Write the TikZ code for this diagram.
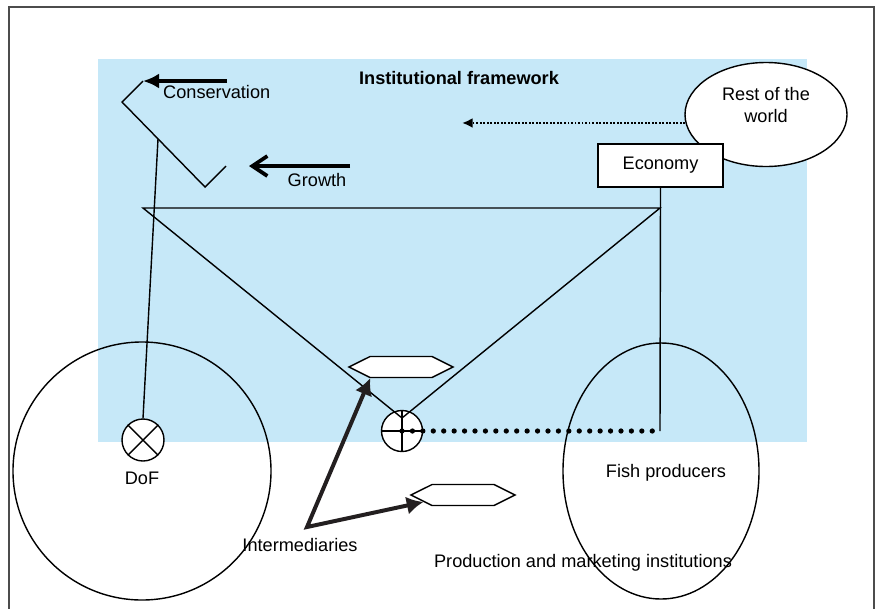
\documentclass[tikz,border=0pt]{standalone}
\usepackage{fontspec}
\setmainfont{Liberation Sans}
\usepackage{tikz}
\usetikzlibrary{arrows.meta,shapes.geometric,shapes.symbols}

\definecolor{frameblue}{HTML}{C6E8F8}
\definecolor{arrowdark}{HTML}{231F20}

\begin{document}
\begin{tikzpicture}[
    x=0.03cm, y=-0.03cm,
    every node/.style={font=\fontsize{15.5}{18.7}\selectfont},
    txt/.style={inner sep=0pt},
    bar/.style={line width=1.2pt},
    wheel/.style={ellipse, draw, line width=1.2pt, inner sep=0pt},
    hubnode/.style={circle, draw, fill=white, line width=1.2pt, minimum size=1.23cm, inner sep=0pt},
    hexbox/.style={signal, signal to=west and east, signal pointer angle=53, draw, fill=white,
                   line width=1.2pt, minimum width=3.12cm, minimum height=0.63cm, inner sep=0pt},
    pointer/.style={line width=3.4pt, draw=arrowdark, line join=miter,
                    {Latex[length=0.5cm,width=0.55cm]}-{Latex[length=0.5cm,width=0.55cm]}}
  ]
    % Page and background
    \useasboundingbox (0,0) rectangle (876,608);
    \fill[frameblue] (98,59) rectangle (807,442);
    \draw[gray!60!black, line width=1.3pt] (9,7) rectangle (874,650);

    % Wheels
    \node[wheel, minimum width=7.74cm, minimum height=7.74cm] (leftwheel) at (142,471) {};
    \node[wheel, minimum width=5.88cm, minimum height=7.68cm] (rightwheel) at (661,471) {};

    % Frame points
    \coordinate (seat) at (143,208);
    \coordinate (head) at (660,208);
    \coordinate (crank) at (402,418);
    \coordinate (rear) at (660,431);
    \coordinate (stem) at (158,139);

    % Handlebar
    \coordinate (hbtip) at (143,81);
    \coordinate (hbleft) at (122,102);
    \coordinate (hblow) at (205,187);
    \coordinate (hbend) at (226,166);
    \draw[bar] (hbtip) -- (hbleft) -- (hblow) -- (hbend);

    % Hubs
    \node[hubnode, minimum size=1.26cm] (dof) at (143,440) {};
    \draw[bar] (dof.45) -- (dof.225) (dof.135) -- (dof.-45);
    \node[hubnode] (hub) at (402,431) {};
    \draw[bar] (hub.north) -- (hub.south) (hub.west) -- (hub.east);

    % Rest of the world and economy
    \node[ellipse, draw, fill=white, line width=1.2pt, minimum width=4.86cm, minimum height=3.12cm] (world) at (766,114.5) {};
    \node[txt, align=center] (worldlabel) at (766,105) {Rest of the\\world};
    \node[draw, fill=white, line width=1.2pt, minimum width=3.75cm, minimum height=1.29cm, inner sep=0pt] (economy) at (660.5,165.5) {Economy};

    % Frame
    \draw[bar] (seat) -- (head) -- (crank) -- cycle;
    \draw[bar] (economy.south) -- (rear);
    \draw[bar] (stem) -- (dof.north);
    \draw[line width=4.5pt, line cap=round, dash pattern=on 0pt off 8.9pt] (hub.center) -- (rear);

    % Arrows
    \coordinate (worldend) at (462,123);
    \draw[line width=1.8pt, dash pattern=on 1.6pt off 1.4pt, -{Latex[length=0.32cm,width=0.3cm]}] (world.186) -- (world.186 -| worldend);
    \coordinate (consstart) at (227,81);
    \draw[line width=3.2pt, -{Latex[length=0.48cm,width=0.45cm]}] (consstart) -- (hbtip);
    \coordinate (growthstart) at (350,166);
    \coordinate (growthend) at (249,166);
    \draw[line width=3.2pt, -{Straight Barb[length=0.45cm,width=0.6cm]}] (growthstart) -- (growthend);

    % Intermediaries
    \node[hexbox] (hexup) at (401,367) {};
    \node[hexbox] (hexlow) at (463,495) {};
    \coordinate (interm) at (307,527);
    \draw[pointer] (hexup.200) -- (interm) -- (hexlow.190);

    % Labels
    \node[txt, anchor=west] (conslabel) at (163,92) {Conservation};
    \node[txt] (growthlabel) at (317,180) {Growth};
    \node[txt, font=\fontsize{15.5}{18.7}\selectfont\bfseries] (title) at (459,78) {Institutional framework};
    \node[txt] (doflabel) at (142,478) {DoF};
    \node[txt] (fishlabel) at (666,473) {Fish producers};
    \node[txt] (intlabel) at (300,545) {Intermediaries};
    \node[txt] (prodlabel) at (583,563) {Production and marketing institutions};
  \end{tikzpicture}
\end{document}
